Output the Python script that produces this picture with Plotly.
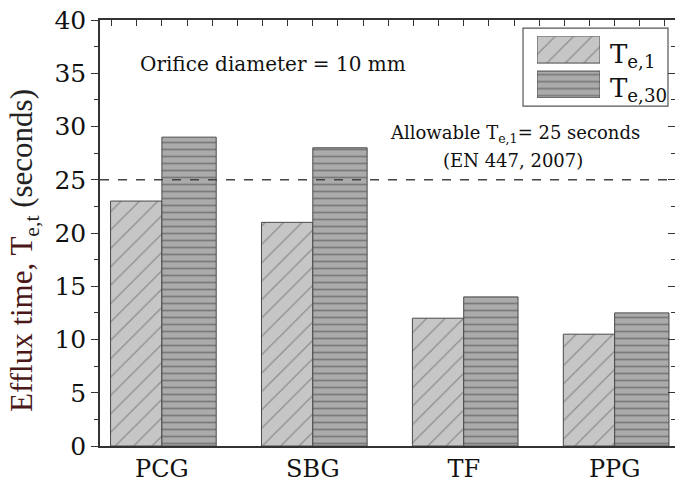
import plotly.graph_objects as go

categories = ["PCG", "SBG", "TF", "PPG"]
te1 = [23, 21, 12, 10.5]
te30 = [29, 28, 14, 12.5]
allowable = 25
series_names = ["T<sub>e,1</sub>", "T<sub>e,30</sub>"]

xpos = list(range(len(categories)))
FONT = "DejaVu Serif"
FONT_T = "Liberation Serif"

p1 = dict(shape="/", fgcolor="#555555", bgcolor="#c6c6c6", size=13, solidity=0.1)
p2 = dict(shape="-", fgcolor="#4a4a4a", bgcolor="#ababab", size=7, solidity=0.25)

fig = go.Figure()
fig.add_trace(go.Bar(
    x=xpos, y=te1, width=0.34, offset=-0.34,
    marker=dict(color="#c6c6c6", line=dict(color="#4a4a4a", width=1), pattern=p1),
    showlegend=False))
fig.add_trace(go.Bar(
    x=xpos, y=te30, width=0.36, offset=0,
    marker=dict(color="#a9a9a9", line=dict(color="#4a4a4a", width=1), pattern=p2),
    showlegend=False))

# legend swatches drawn as an inset
fig.add_trace(go.Bar(
    x=[1], y=[1], orientation="h", width=0.77, xaxis="x3", yaxis="y3",
    marker=dict(color="#c6c6c6", line=dict(color="#4a4a4a", width=1), pattern=p1),
    showlegend=False, hoverinfo="skip"))
fig.add_trace(go.Bar(
    x=[1], y=[0], orientation="h", width=0.77, xaxis="x3", yaxis="y3",
    marker=dict(color="#a9a9a9", line=dict(color="#4a4a4a", width=1), pattern=p2),
    showlegend=False, hoverinfo="skip"))

# invisible trace for mirror axes
fig.add_trace(go.Scatter(x=[None], y=[None], xaxis="x2", yaxis="y2", showlegend=False))

xr = [-0.41, 3.40]
fig.update_layout(
    width=675, height=484,
    margin=dict(l=100, r=0, t=20, b=38),
    paper_bgcolor="white", plot_bgcolor="white",
    font=dict(family=FONT, color="#111111"),
    barmode="overlay",
    xaxis=dict(range=xr, tickmode="array", tickvals=xpos, ticktext=categories,
               ticks="", showline=True, linecolor="#333333", linewidth=1.5,
               tickfont=dict(size=24, family=FONT, color="#111111"), showgrid=False, zeroline=False),
    yaxis=dict(range=[0, 40], dtick=5, ticks="outside", ticklen=7, tickwidth=1.3, tickcolor="#333333",
               showline=True, linecolor="#333333", linewidth=1.5, showgrid=False, zeroline=False,
               minor=dict(dtick=2.5, ticks="outside", ticklen=4, tickcolor="#333333"),
               tickfont=dict(size=25, family=FONT, color="#111111")),
    xaxis2=dict(overlaying="x", side="top", range=xr, dtick=1/6, tick0=0, ticks="inside", ticklen=6,
                tickcolor="#333333", showticklabels=False, showline=True, linecolor="#333333",
                linewidth=1.5, showgrid=False, zeroline=False),
    yaxis2=dict(overlaying="y", side="right", range=[0, 40], dtick=5, ticks="inside", ticklen=7,
                tickcolor="#333333", showticklabels=False, showline=False, showgrid=False, zeroline=False,
                minor=dict(dtick=2.5, ticks="inside", ticklen=4, tickcolor="#333333")),
    xaxis3=dict(domain=[0.760, 0.8696], range=[0, 1], visible=False, fixedrange=True),
    yaxis3=dict(domain=[0.817, 0.962], range=[-0.386, 1.386], visible=False, fixedrange=True),
)

# y-axis title
fig.add_annotation(xref="paper", yref="paper", x=(24 - 100) / 575, y=(446 - 251) / 426,
                   xanchor="center", yanchor="middle", textangle=-90, showarrow=False,
                   text='<span style="color:#4a1818">Efflux time, T</span><sub>e,t</sub> (seconds)',
                   font=dict(size=31, family=FONT_T, color="#222222"))

fig.add_shape(type="line", xref="paper", x0=0, x1=1, yref="y", y0=allowable, y1=allowable,
              line=dict(color="#444444", width=1.5, dash="dash"))
fig.add_shape(type="rect", xref="paper", yref="paper", x0=0.7357, x1=0.9878, y0=0.798, y1=0.981,
              line=dict(color="#555555", width=1.2), fillcolor="rgba(0,0,0,0)")

fig.add_annotation(xref="paper", yref="paper", x=0.8835, y=0.9155, xanchor="left", yanchor="middle",
                   text=series_names[0], showarrow=False, font=dict(size=26, family=FONT, color="#111111"))
fig.add_annotation(xref="paper", yref="paper", x=0.8835, y=0.8365, xanchor="left", yanchor="middle",
                   text=series_names[1], showarrow=False, font=dict(size=26, family=FONT, color="#111111"))

fig.add_annotation(xref="paper", yref="paper", x=(138 - 100) / 575, y=(446 - 64) / 426, xanchor="left",
                   yanchor="middle", text="Orifice diameter = 10 mm", showarrow=False,
                   font=dict(size=20, family=FONT, color="#111111"))
fig.add_annotation(xref="paper", yref="paper", x=(515 - 100) / 575, y=(446 - 134) / 426, xanchor="center",
                   yanchor="middle", text="Allowable T<sub>e,1</sub>= 25 seconds", showarrow=False,
                   font=dict(size=18, family=FONT, color="#111111"))
fig.add_annotation(xref="paper", yref="paper", x=(513 - 100) / 575, y=(446 - 160) / 426, xanchor="center",
                   yanchor="middle", text="(EN 447, 2007)", showarrow=False,
                   font=dict(size=18, family=FONT, color="#111111"))

fig.write_html("out.html")
